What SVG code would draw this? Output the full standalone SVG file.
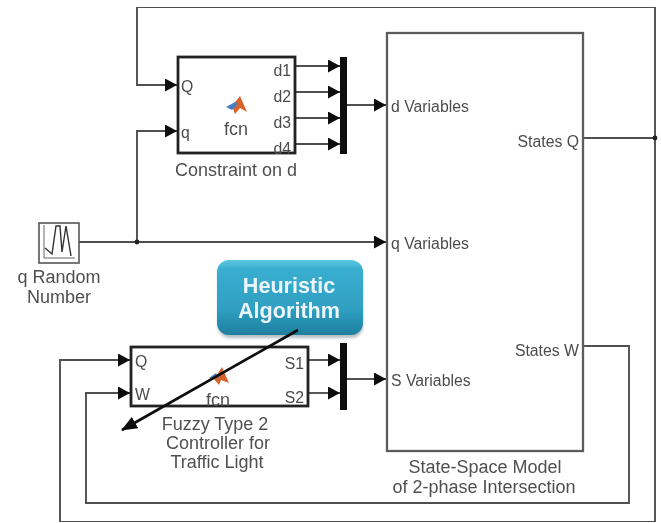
<svg xmlns="http://www.w3.org/2000/svg" width="661" height="523" viewBox="0 0 661 523">
<style>
text{font-family:"Liberation Sans",Arial,sans-serif;font-size:18px;fill:#505050}
.p{font-size:15.8px;fill:#4c4c4c}
.m{text-anchor:middle}
.e{text-anchor:end}
.w{fill:none;stroke:#505050;stroke-width:1.9}
.b{fill:#fff;stroke:#222;stroke-width:2.8}
.g{fill:#fff;stroke:#5c5c5c;stroke-width:2.3}
.bar{fill:#0a0a0a}
.h{font-size:21.6px;font-weight:bold;fill:#eaf6fa}
</style>
<defs>
<marker id="a" markerUnits="userSpaceOnUse" markerWidth="13" markerHeight="13" refX="12" refY="6.5" orient="auto"><path d="M0 0L12 6.5L0 13Z" fill="#0a0a0a"/></marker>
<marker id="k" markerUnits="userSpaceOnUse" markerWidth="17" markerHeight="13" refX="15" refY="6.5" orient="auto"><path d="M0 0L16 6.5L0 13Z" fill="#0a0a0a"/></marker>
<linearGradient id="h" x1="0" y1="0" x2="0" y2="1"><stop offset="0" stop-color="#5cc8e2"/><stop offset="0.12" stop-color="#3aaed0"/><stop offset="0.65" stop-color="#2f9fc2"/><stop offset="1" stop-color="#1f7f9f"/></linearGradient>
<filter id="s" x="-10%" y="-10%" width="120%" height="125%"><feGaussianBlur stdDeviation="1.5"/></filter>
<filter id="soft" x="0" y="0" width="100%" height="100%"><feGaussianBlur stdDeviation="0.45"/></filter>
</defs>
<rect width="661" height="523" fill="#fff"/>
<g id="diagram" filter="url(#soft)">
<g id="connectors">
<path class="w" d="M583 138H655V7H137V85H177" marker-end="url(#a)"/>
<path class="w" d="M655 138V522H60V360H130" marker-end="url(#a)"/>
<path class="w" d="M583 346H629V503H86V393H130" marker-end="url(#a)"/>
<path class="w" d="M79 242H386" marker-end="url(#a)"/>
<path class="w" d="M137 242V131H177" marker-end="url(#a)"/>
<path class="w" d="M295 66H340" marker-end="url(#a)"/>
<path class="w" d="M295 92H340" marker-end="url(#a)"/>
<path class="w" d="M295 118H340" marker-end="url(#a)"/>
<path class="w" d="M295 144H340" marker-end="url(#a)"/>
<path class="w" d="M347 105H386" marker-end="url(#a)"/>
<path class="w" d="M308 360H340" marker-end="url(#a)"/>
<path class="w" d="M308 393H340" marker-end="url(#a)"/>
<path class="w" d="M347 379H386" marker-end="url(#a)"/>
<circle cx="137" cy="242" r="2.4" fill="#222"/>
<circle cx="655" cy="138" r="2.4" fill="#222"/>
</g>
<g id="state-space">
<rect class="g" x="387" y="33" width="196" height="418"/>
<text class="p" x="391" y="112">d Variables</text>
<text class="p" x="391" y="249">q Variables</text>
<text class="p" x="391" y="386">S Variables</text>
<text class="p e" x="579" y="147">States Q</text>
<text class="p e" x="579" y="356">States W</text>
<text class="m" x="485" y="473">State-Space Model</text>
<text class="m" x="484" y="493">of 2-phase Intersection</text>
</g>
<g id="constraint">
<rect class="b" x="178" y="57" width="117" height="96"/>
<text class="p" x="181" y="92">Q</text>
<text class="p" x="181" y="138">q</text>
<text class="p e" x="291" y="76">d1</text>
<text class="p e" x="291" y="102">d2</text>
<text class="p e" x="291" y="128">d3</text>
<text class="p e" x="291" y="154">d4</text>
<path d="M232 106L240 96L247 112L240 108L235 114Z" fill="#d9622b"/>
<path d="M226 107L235 102L238 104L232 110Z" fill="#4a7fc1"/>
<text class="m" x="236" y="135">fcn</text>
<text class="m" x="236" y="176">Constraint on d</text>
</g>
<g id="mux-d"><rect class="bar" x="340" y="57" width="7" height="97"/></g>
<g id="source">
<rect x="39" y="223" width="40" height="40" fill="#fff" stroke="#555" stroke-width="1.6"/>
<path d="M44 225V258H75" fill="none" stroke="#666"/>
<path d="M45 248L52 254L56 226L60 226L62 252L66 226L71 256" fill="none" stroke="#333" stroke-width="1.4"/>
<text class="m" x="59" y="283">q Random</text>
<text class="m" x="59" y="303">Number</text>
</g>
<g id="fuzzy">
<rect class="b" x="131" y="347" width="177" height="59"/>
<text class="p" x="135" y="367">Q</text>
<text class="p" x="135" y="400">W</text>
<text class="p e" x="304" y="369">S1</text>
<text class="p e" x="304" y="403">S2</text>
<path d="M214 379L222 367L229 383L221 380L219 385Z" fill="#d9622b"/>
<path d="M209 378L216 373L219 378Z" fill="#4a7fc1"/>
<text class="m" x="218" y="406">fcn</text>
<text class="m" x="215" y="430">Fuzzy Type 2</text>
<text class="m" x="218" y="449">Controller for</text>
<text class="m" x="217" y="468">Traffic Light</text>
</g>
<g id="mux-s"><rect class="bar" x="340" y="343" width="7" height="67"/></g>
<g id="heuristic">
<rect x="218" y="263" width="145" height="75" rx="12" fill="#7a8a90" opacity="0.55" filter="url(#s)"/>
<rect x="217" y="260" width="146" height="75" rx="12" fill="url(#h)"/>
<text class="m h" x="289" y="293">Heuristic</text>
<text class="m h" x="289" y="318">Algorithm</text>
</g>
<path id="overlay-arrow" d="M298 330L122 430" fill="none" stroke="#0a0a0a" stroke-width="2.6" marker-end="url(#k)"/>
</g>
</svg>
